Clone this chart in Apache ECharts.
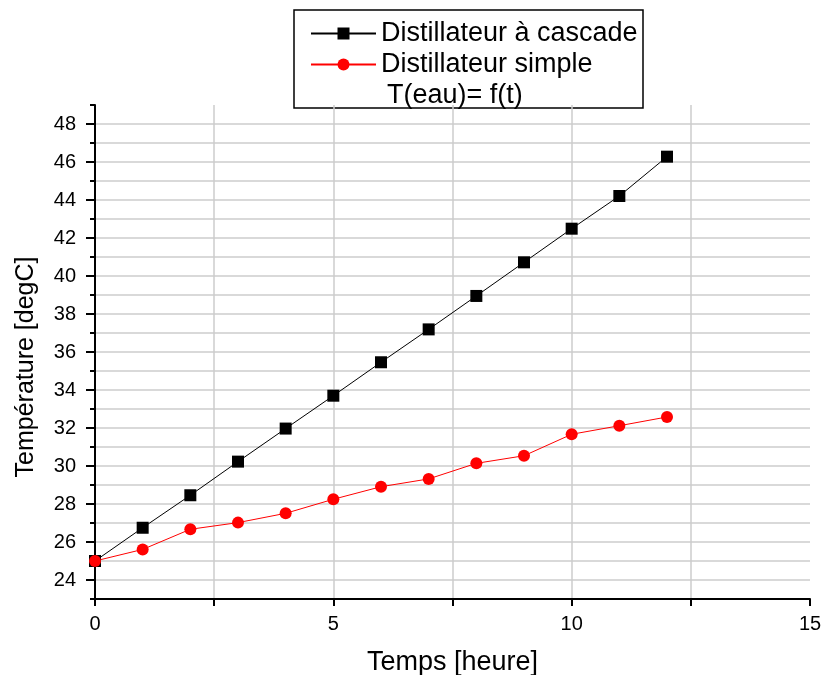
<!DOCTYPE html>
<html><head><meta charset="utf-8">
<script src="https://cdn.jsdelivr.net/npm/echarts@6/dist/echarts.min.js"></script>
<style>html,body{margin:0;padding:0;background:#fff}#c{width:826px;height:675px}</style>
</head><body><div id="c"></div>
<script>
const hours = [0,1,2,3,4,5,6,7,8,9,10,11,12];
const cascade = [25.0,26.75,28.46,30.23,31.97,33.70,35.46,37.19,38.95,40.72,42.49,44.21,46.28];
const simple = [25.0,25.61,26.67,27.02,27.51,28.25,28.91,29.32,30.14,30.54,31.67,32.12,32.58];
const yMajorTicks = [24,26,28,30,32,34,36,38,40,42,44,46,48];
const xMajorTicks = [0,5,10,15];
const seriesNames = ['Distillateur à cascade','Distillateur simple'];
const legendNote = 'T(eau)= f(t)';
const xTitle = 'Temps [heure]';
const yTitle = 'Température [degC]';

const FONT = '"Liberation Sans", Arial, sans-serif';
const chart = echarts.init(document.getElementById('c'));
const pair = (xs, ys) => xs.map((x,i)=>[x, ys[i]]);
chart.setOption({
  animation:false,
  grid:{left:95, right:16, top:105, bottom:76, outerBoundsMode:'none'},
  xAxis:{type:'value', min:0, max:15, interval:2.5,
    axisLine:{lineStyle:{color:'#000', width:2}},
    axisTick:{length:7, lineStyle:{color:'#000', width:2}},
    axisLabel:{color:'#000', fontFamily:FONT, fontSize:20, margin:15,
      formatter:v=> xMajorTicks.includes(v)? String(v):''},
    splitLine:{show:true, showMaxLine:false, lineStyle:{color:'#cccccc', width:1.5}},
    name:xTitle, nameLocation:'middle', nameGap:50,
    nameTextStyle:{color:'#000', fontFamily:FONT, fontSize:27}
  },
  yAxis:[{type:'value', min:23, max:49, interval:1,
    axisLine:{lineStyle:{color:'#000', width:2}},
    axisTick:{length:5, lineStyle:{color:'#000', width:2}},
    axisLabel:{show:false},
    splitLine:{show:true, showMaxLine:false, lineStyle:{color:'#cccccc', width:1.5}}
  },{type:'value', min:23, max:49, interval:1, position:'left',
    axisLine:{show:false},
    axisTick:{length:9, customValues:yMajorTicks, lineStyle:{color:'#000', width:2}},
    axisLabel:{customValues:yMajorTicks, color:'#000', fontFamily:FONT, fontSize:20, margin:19},
    splitLine:{show:false}
  }],
  legend:{orient:'vertical', left:310, top:20, padding:0, itemWidth:65, itemHeight:15, itemGap:4,
    textStyle:{color:'#000', fontFamily:FONT, fontSize:27},
    data:seriesNames},
  graphic:[
    {type:'rect', shape:{x:294, y:10, width:349, height:98}, style:{fill:'none', stroke:'#000', lineWidth:1.5}},
    {type:'text', left:387, top:82, style:{text:legendNote, font:'27px '+FONT, fill:'#000'}},
    {type:'text', x:26, y:367, rotation:Math.PI/2,
      style:{text:yTitle, font:'25px '+FONT, fill:'#000', align:'center', verticalAlign:'middle'}}
  ],
  series:[
    {name:seriesNames[0], type:'line', data:pair(hours,cascade), symbol:'rect', symbolSize:12,
      itemStyle:{color:'#000'}, lineStyle:{color:'#000', width:1}},
    {name:seriesNames[1], type:'line', data:pair(hours,simple), symbol:'circle', symbolSize:12,
      itemStyle:{color:'#ff0000'}, lineStyle:{color:'#ff0000', width:1}}
  ]
});
</script></body></html>
